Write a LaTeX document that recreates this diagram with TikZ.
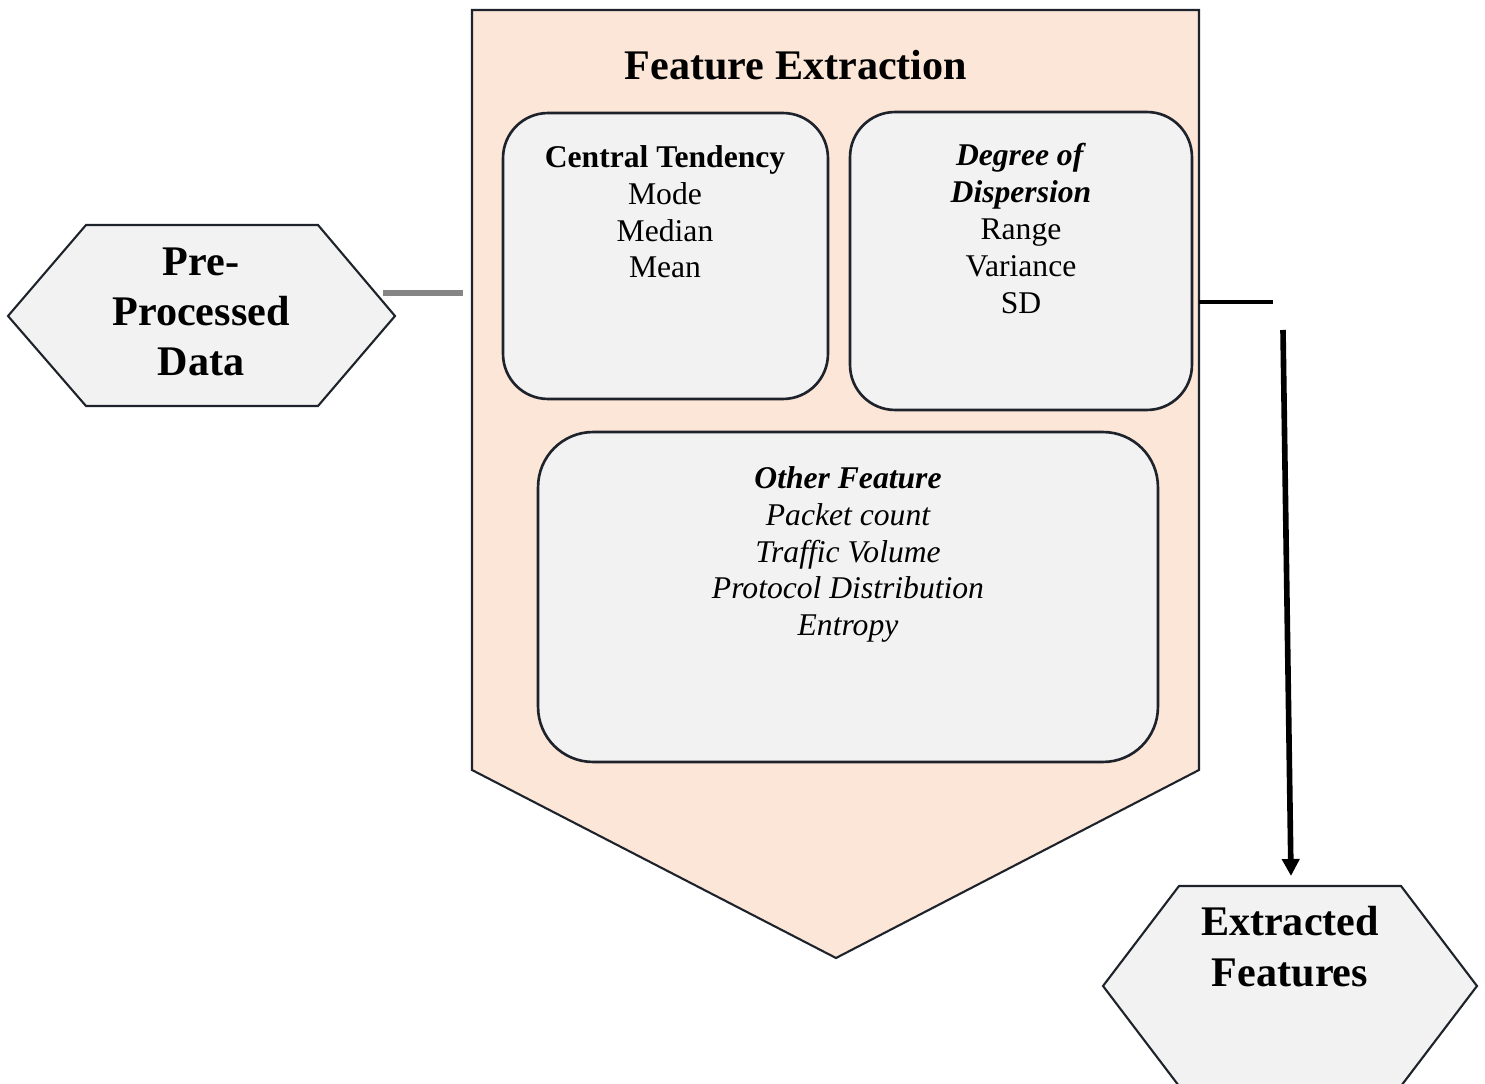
\documentclass[tikz,border=0pt]{standalone}
\usepackage{fontspec}
\setmainfont{Liberation Serif}
\usetikzlibrary{arrows.meta}
\definecolor{peach}{HTML}{FBE6D8}
\definecolor{boxgray}{HTML}{F2F2F2}
\definecolor{edge}{HTML}{1E232B}
\definecolor{linkgray}{HTML}{858585}
\tikzset{
  stage/.style={draw=edge, line width=1.2pt, fill=peach},
  hexa/.style={draw=edge, line width=1.2pt, fill=boxgray},
  groupbox/.style={draw=edge, line width=1.5pt, fill=boxgray, rounded corners=0.9cm, inner sep=0pt},
  boxtext/.style={anchor=north, align=center, inner sep=0pt, font=\fontsize{18pt}{21pt}\selectfont},
  bigtext/.style={align=center, inner sep=0pt, font=\fontsize{24pt}{28.5pt}\selectfont\bfseries},
}
\begin{document}
\begin{tikzpicture}[x=0.02cm,y=-0.02cm]
\useasboundingbox (0,0) rectangle (1485,1084);

% main stage: pentagon pointing down
\path[stage] (472,10) -- (1199,10) -- (1199,770) -- (836,958) -- (472,770) -- cycle;
\node[inner sep=0pt, font=\fontsize{24pt}{28pt}\selectfont\bfseries] (title) at (796,65) {Feature Extraction};

% feature groups
\node[groupbox, minimum width=6.5cm, minimum height=5.72cm] (ct) at (665.5,256) {};
\node[boxtext] (cttext) at (665,145) {\textbf{Central Tendency}\\Mode\\Median\\Mean};

\node[groupbox, minimum width=6.84cm, minimum height=5.96cm] (dd) at (1021,261) {};
\node[boxtext] (ddtext) at (1021,143) {\textbf{\textit{Degree of}}\\\textbf{\textit{Dispersion}}\\Range\\Variance\\SD};

\node[groupbox, rounded corners=1.1cm, minimum width=12.4cm, minimum height=6.6cm] (of) at (848,597) {};
\node[boxtext, font=\fontsize{18pt}{21pt}\selectfont\itshape] (oftext) at (848,466) {\textbf{Other Feature}\\Packet count\\Traffic Volume\\Protocol Distribution\\Entropy};

% input hexagon
\path[hexa] (8,316) -- (86,225) -- (318,225) -- (395,316) -- (318,406) -- (86,406) -- cycle;
\node[bigtext] (pre) at (201,312) {Pre-\\Processed\\Data};

% output hexagon
\path[hexa] (1103,986) -- (1179,886) -- (1401,886) -- (1477,986) -- (1401,1086) -- (1179,1086) -- cycle;
\node[bigtext, font=\fontsize{24pt}{29pt}\selectfont\bfseries] (out) at (1290,947) {Extracted\\Features};

% connectors
\coordinate (inA) at (383,293);
\coordinate (inB) at (463,293);
\draw[linkgray, line width=3.3pt] (inA) -- (inB);

\coordinate (outA) at (1199,302);
\coordinate (outB) at (1273,302);
\draw[black, line width=2.8pt] (outA) -- (outB);

\coordinate (downA) at (1283,330);
\coordinate (downB) at (1291,876);
\draw[black, line width=3.2pt, -{Triangle[length=9.7pt,width=9.7pt]}] (downA) -- (downB);
\end{tikzpicture}
\end{document}
